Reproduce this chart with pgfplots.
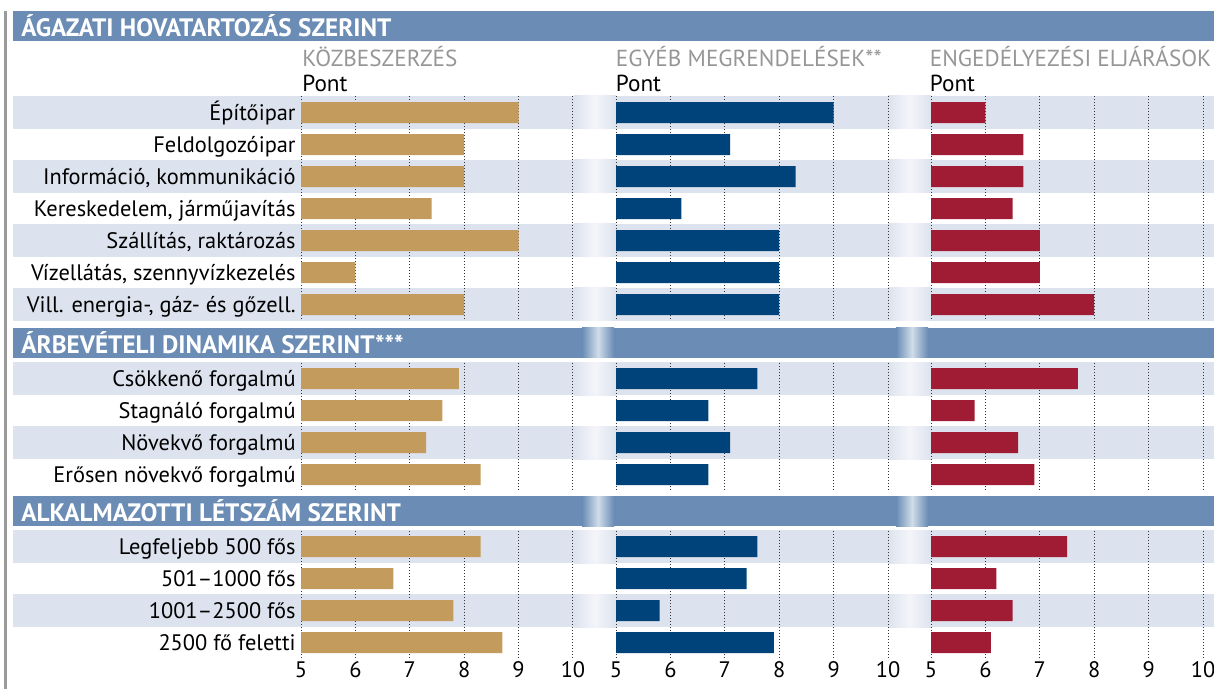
\documentclass[border=0pt]{standalone}
\usepackage{pgfplots}
\pgfplotsset{compat=1.18}
\usepackage{pgfplotstable}
\usepackage{fontspec}
\setmainfont{PT Sans}
\definecolor{gold}{HTML}{C39B5C}
\definecolor{navy}{HTML}{00437A}
\definecolor{crim}{HTML}{A01B34}
\definecolor{headblue}{HTML}{6A8CB5}
\definecolor{band}{HTML}{DDE3EE}
\definecolor{stripe}{HTML}{F4F5FA}
\definecolor{headstripe}{HTML}{D0DCE8}
\definecolor{titlegray}{HTML}{969696}
\definecolor{leftgray}{HTML}{9A9A9A}

% pos = row position (rows of one section are 1 apart; sections separated by header gaps)
\pgfplotstableread{
pos      kozb egyeb enged
1        9.0  9.0   6.0
2        8.0  7.1   6.7
3        8.0  8.3   6.7
4        7.4  6.2   6.5
5        9.0  8.0   7.0
6        6.0  8.0   7.0
7        8.0  8.0   8.0
9.3125   7.9  7.6   7.7
10.3125  7.6  6.7   5.8
11.3125  7.3  7.1   6.6
12.3125  8.3  6.7   6.9
14.5625  8.3  7.6   7.5
15.5625  6.7  7.4   6.2
16.5625  7.8  5.8   6.5
17.5625  8.7  7.9   6.1
}\data

\newcommand{\bodyfont}{\fontsize{11.2}{12}\selectfont}
\newcommand{\titlefont}{\fontsize{11.6}{12}\selectfont}
\newcommand{\headfont}{\fontsize{12.6}{12}\selectfont\bfseries}

\pgfplotsset{panel/.style={
  scale only axis, width=136pt, height=282pt,
  anchor=north west,
  xmin=5, xmax=10, ymin=0.484375, ymax=18.109375, y dir=reverse,
  axis line style={draw=none},
  xtick={5,6,7,8,9,10}, ytick=\empty,
  major tick length=0pt,
  xmajorgrids,
  grid style={black!80, line width=0.5pt, dash pattern=on 0.5pt off 1pt},
  xbar, bar width=10.5pt,
  /pgf/number format/assume math mode=true,
  ticklabel style={font=\bodyfont},
  xticklabel style={anchor=north, inner sep=0pt, yshift=-0.5pt},
  yticklabel style={anchor=base east, inner sep=0pt, xshift=-2.5pt, yshift=-3.9pt},
}}

\begin{document}
\begin{tikzpicture}
\useasboundingbox (0,0) rectangle (607pt,-344.5pt);
\begin{scope}[x=0.5pt,y=-0.5pt]
  \foreach \t in {96,160,224,288,362,426,530,594}{
    \fill[band] (13,\t) rectangle (1214,\t+33);
    \shade[left color=band,right color=band,middle color=stripe] (574,\t) rectangle (616,\t+33);
    \shade[left color=band,right color=band,middle color=stripe] (888,\t) rectangle (931,\t+33);
  }
\end{scope}

\begin{axis}[panel, at={(150.5pt,-48pt)},
  ytick={1,2,3,4,5,6,7,9.3125,10.3125,11.3125,12.3125,14.5625,15.5625,16.5625,17.5625},
  yticklabels={Építőipar, Feldolgozóipar, {Információ, kommunikáció}, {Kereskedelem, járműjavítás},
    {Szállítás, raktározás}, {Vízellátás, szennyvízkezelés}, {Vill. energia-, gáz- és gőzell.},
    Csökkenő forgalmú, Stagnáló forgalmú, Növekvő forgalmú, Erősen növekvő forgalmú,
    Legfeljebb 500 fős, 501–1000 fős, 1001–2500 fős, 2500 fő feletti}]
  \addplot[fill=gold, draw=none] table[x=kozb, y=pos]{\data};
\end{axis}

\begin{axis}[panel, at={(308pt,-48pt)}]
  \addplot[fill=navy, draw=none] table[x=egyeb, y=pos]{\data};
\end{axis}

\begin{axis}[panel, at={(465.5pt,-48pt)}]
  \addplot[fill=crim, draw=none] table[x=enged, y=pos]{\data};
\end{axis}

\begin{scope}[x=0.5pt,y=-0.5pt]
  % gaps around section headers
  \fill[white] (13,321) rectangle (1214,362);
  \fill[white] (13,491) rectangle (1214,530);
  \foreach \t in {328,496}{
    \fill[headblue] (13,\t) rectangle (1214,\t+30);
    \shade[left color=headblue,right color=headblue,middle color=headstripe] (582,\t) rectangle (614,\t+30);
    \shade[left color=headblue,right color=headblue,middle color=headstripe] (896,\t) rectangle (928,\t+30);
  }
  \fill[headblue] (13,11) rectangle (1214,41);
  % header texts
  \node[anchor=base west, inner sep=0pt, text=white] at (21,36.7) {\headfont ÁGAZATI HOVATARTOZÁS SZERINT};
  \node[anchor=base west, inner sep=0pt, text=white] at (21,353.5) {\headfont ÁRBEVÉTELI DINAMIKA SZERINT***};
  \node[anchor=base west, inner sep=0pt, text=white] at (21,521.5) {\headfont ALKALMAZOTTI LÉTSZÁM SZERINT};
  % panel titles
  \node[anchor=base west, inner sep=0pt, text=titlegray] at (302,66.7) {\titlefont KÖZBESZERZÉS};
  \node[anchor=base west, inner sep=0pt] at (302,91.7) {\titlefont Pont};
  \node[anchor=base west, inner sep=0pt, text=titlegray] at (615.5,66.7) {\titlefont EGYÉB MEGRENDELÉSEK**};
  \node[anchor=base west, inner sep=0pt] at (615.5,91.7) {\titlefont Pont};
  \node[anchor=base west, inner sep=0pt, text=titlegray] at (929.5,66.7) {\titlefont ENGEDÉLYEZÉSI ELJÁRÁSOK};
  \node[anchor=base west, inner sep=0pt] at (929.5,91.7) {\titlefont Pont};
  % left rule
  \fill[leftgray] (4,11) rectangle (7,689);
\end{scope}
\end{tikzpicture}
\end{document}
